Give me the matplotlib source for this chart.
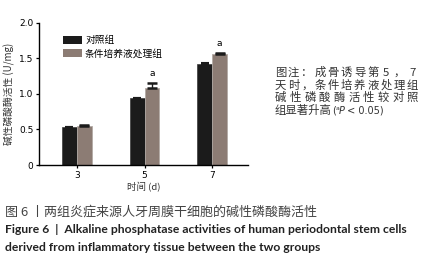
import matplotlib

matplotlib.use("Agg")
import matplotlib.pyplot as plt
import numpy as np
from matplotlib.patches import Patch

plt.rcParams["font.family"] = ["DejaVu Sans", "Noto Sans CJK SC"]

days = ["3", "5", "7"]
control = [0.53, 0.94, 1.42]
control_err = [0.005, 0.01, 0.02]
treated = [0.55, 1.09, 1.56]
treated_err = [0.015, 0.06, 0.015]
sig = ["", "a", "a"]
legend_labels = ["对照组", "条件培养液处理组"]
# justified note lines: one token per character cell
note_lines = [
    ["图", "注", "：", "成", "骨", "诱", "导", "第", "5", "，", "7"],
    list("天时，条件培养液处理组"),
    list("碱性磷酸酶活性较对照"),
]
note_last = "组显著升高"
note_p = ["(", "a", "P", " < 0.05)"]
caption_cn = "图 6 丨两组炎症来源人牙周膜干细胞的碱性磷酸酶活性"
caption_en = ["Figure 6  |  Alkaline phosphatase activities of human periodontal stem cells",
              "derived from inflammatory tissue between the two groups"]

CJK = ["Noto Sans CJK SC", "DejaVu Sans"]
BLACK = "#1b1b1b"
BROWN = "#8c7c74"
NOTE_C = "#333333"
W, H = 422, 267


def px(xp, yp):
    return xp / W, 1 - yp / H


fig = plt.figure(figsize=(4.22, 2.67), dpi=100)
ax = fig.add_axes([0.0924, 0.382, 0.4953, 0.532])

x = np.arange(len(days))
w = 0.22
ax.bar(x - w / 2, control, w, color=BLACK, edgecolor="#3a3a3a", linewidth=0.5)
ax.bar(x + w / 2, treated, w, color=BROWN, edgecolor="#b3aaa5", linewidth=0.6)
ax.errorbar(x - w / 2, control, yerr=[np.zeros(3), control_err], fmt="none",
            ecolor=BLACK, elinewidth=1.0, capsize=3, capthick=1.5)
ax.errorbar(x + w / 2, treated, yerr=[np.zeros(3), treated_err], fmt="none",
            ecolor=BLACK, elinewidth=1.0, capsize=3.5, capthick=1.8)
for xi, yi, ei, s in zip(x, treated, treated_err, sig):
    if s:
        ax.text(xi + w / 2, yi + ei + 0.07, s, ha="center", va="bottom", fontsize=6.5)

ax.set_xlim(-0.56, 2.53)
ax.set_ylim(0, 2.0)
ax.set_xticks(x)
ax.set_xticklabels(days, fontsize=6.5)
ax.set_yticks([0, 0.5, 1.0, 1.5, 2.0])
ax.set_yticklabels(["0", "0.5", "1.0", "1.5", "2.0"], fontsize=6.5)
ax.tick_params(length=2.5, width=0.9, pad=1.5)
for s in ["top", "right"]:
    ax.spines[s].set_visible(False)
for s in ["left", "bottom"]:
    ax.spines[s].set_linewidth(1.0)
ax.set_xlabel("时间 (d)", fontsize=6.8, family=CJK, color=NOTE_C, labelpad=2)
ax.set_ylabel("碱性磷酸酶活性 (U/mg)", fontsize=7, family=CJK, color=NOTE_C, labelpad=3)

handles = [Patch(facecolor=BLACK), Patch(facecolor=BROWN)]
ax.legend(handles, legend_labels, loc="upper left", bbox_to_anchor=(0.095, 0.94),
          frameon=False, prop={"family": CJK, "size": 7}, handlelength=2.0,
          handleheight=0.8, handletextpad=0.3, labelspacing=0.3, borderaxespad=0)

# justified note block on the right
x0, x1 = 275, 418
for i, tokens in enumerate(note_lines):
    n = len(tokens)
    pitch = (x1 - x0 - 11) / (n - 1)
    for j, tok in enumerate(tokens):
        fig.text(*px(x0 + 5.5 + pitch * j, 76 + 12.5 * i), tok, fontsize=8.2, family=CJK,
                 color=NOTE_C, va="baseline", ha="center")
y4 = 76 + 12.5 * 3
fig.text(*px(x0, y4), note_last, fontsize=8.2, family=CJK, color=NOTE_C, va="baseline")
fig.text(*px(332, y4), note_p[0], fontsize=7, color=NOTE_C, va="baseline")
fig.text(*px(335.5, y4 - 4), note_p[1], fontsize=4.5, color=NOTE_C, va="baseline")
fig.text(*px(339, y4), note_p[2], fontsize=7, style="italic", color=NOTE_C, va="baseline")
fig.text(*px(344, y4), note_p[3], fontsize=7, color=NOTE_C, va="baseline")

fig.text(*px(5, 216), caption_cn, fontsize=9.4, family=CJK, color="#444444", va="baseline")
for i, line in enumerate(caption_en):
    fig.text(*px(5, 233 + 18 * i), line, fontsize=8.7, family=["Lato", "DejaVu Sans"],
             weight="bold", color="#222222", va="baseline")

fig.savefig("out.png", dpi=100)
